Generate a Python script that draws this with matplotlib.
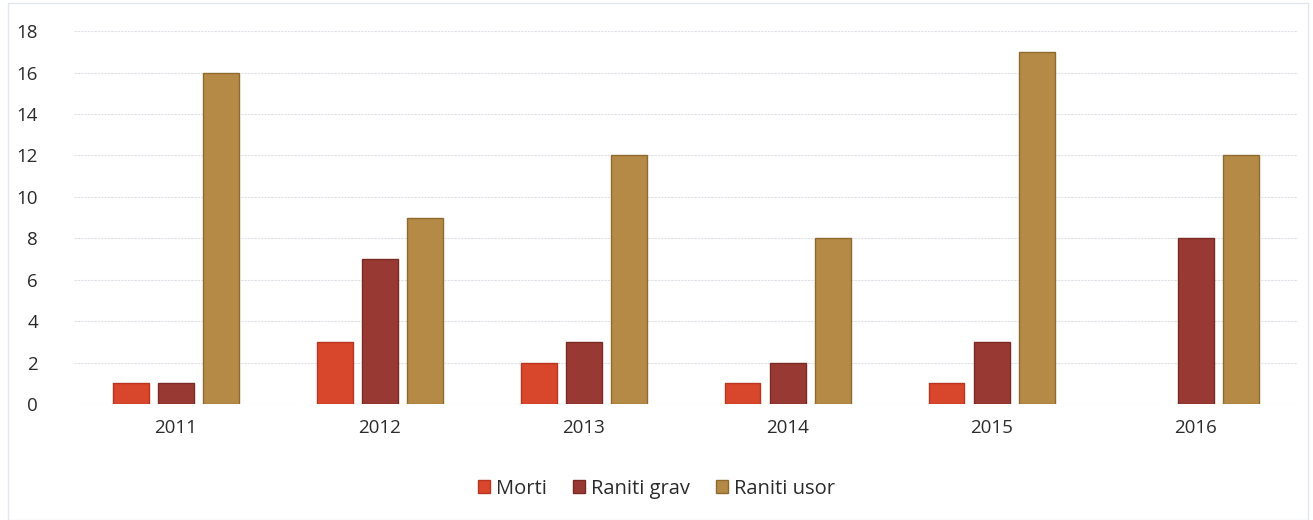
import matplotlib.pyplot as plt
import matplotlib.patches as mpatches
import numpy as np

years = ['2011', '2012', '2013', '2014', '2015', '2016']
morti = [1, 3, 2, 1, 1, 0]
raniti_grav = [1, 7, 3, 2, 3, 8]
raniti_usor = [16, 9, 12, 8, 17, 12]

series = ['Morti', 'Raniti grav', 'Raniti usor']
colors = ['#D8472C', '#983A33', '#B58A46']
edges = ['#B8361F', '#7A2A25', '#8E6A2E']

plt.rcParams['font.family'] = ['Open Sans', 'DejaVu Sans']

fig = plt.figure(figsize=(13.13, 5.2), dpi=100)
ax = fig.add_axes([0.0564, 0.223, 0.932, 0.717])

x = np.arange(len(years))
w = 0.175
offsets = [-0.222, 0.0, 0.222]
for vals, off, c, e, name in zip([morti, raniti_grav, raniti_usor], offsets, colors, edges, series):
    # no outline on empty bars, otherwise a stray line sits on the baseline
    lw = [1.0 if v else 0 for v in vals]
    ax.bar(x + off, vals, width=w, color=c, edgecolor=e, linewidth=lw, label=name, zorder=3)

ax.set_xlim(-0.5, len(years) - 0.5)
ax.set_ylim(0, 18)
ax.set_yticks(range(0, 19, 2))
ax.set_xticks(x)
ax.set_xticklabels(years)
ax.grid(axis='y', color='#DDE0E6', linewidth=0.8, linestyle=(0, (2, 1)), zorder=0)
for s in ax.spines.values():
    s.set_visible(False)
ax.tick_params(axis='both', length=0, labelsize=13.5, colors='#2B2B2B')
ax.tick_params(axis='y', pad=26)
ax.tick_params(axis='x', pad=11)

handles = [mpatches.Patch(facecolor=c, edgecolor=e, label=n) for c, e, n in zip(colors, edges, series)]
fig.legend(handles=handles, loc='center', bbox_to_anchor=(0.5, 0.06), ncol=3, frameon=False,
           fontsize=14.5, handlelength=0.6, handleheight=0.6, handletextpad=0.3, columnspacing=1.3,
           labelcolor='#2B2B2B')

fig.patches.append(mpatches.Rectangle((0.006, 0.0), 0.99, 0.995, transform=fig.transFigure,
                                      fill=False, edgecolor='#E3E6EC', linewidth=1.0))

fig.savefig('out.png', dpi=100)
